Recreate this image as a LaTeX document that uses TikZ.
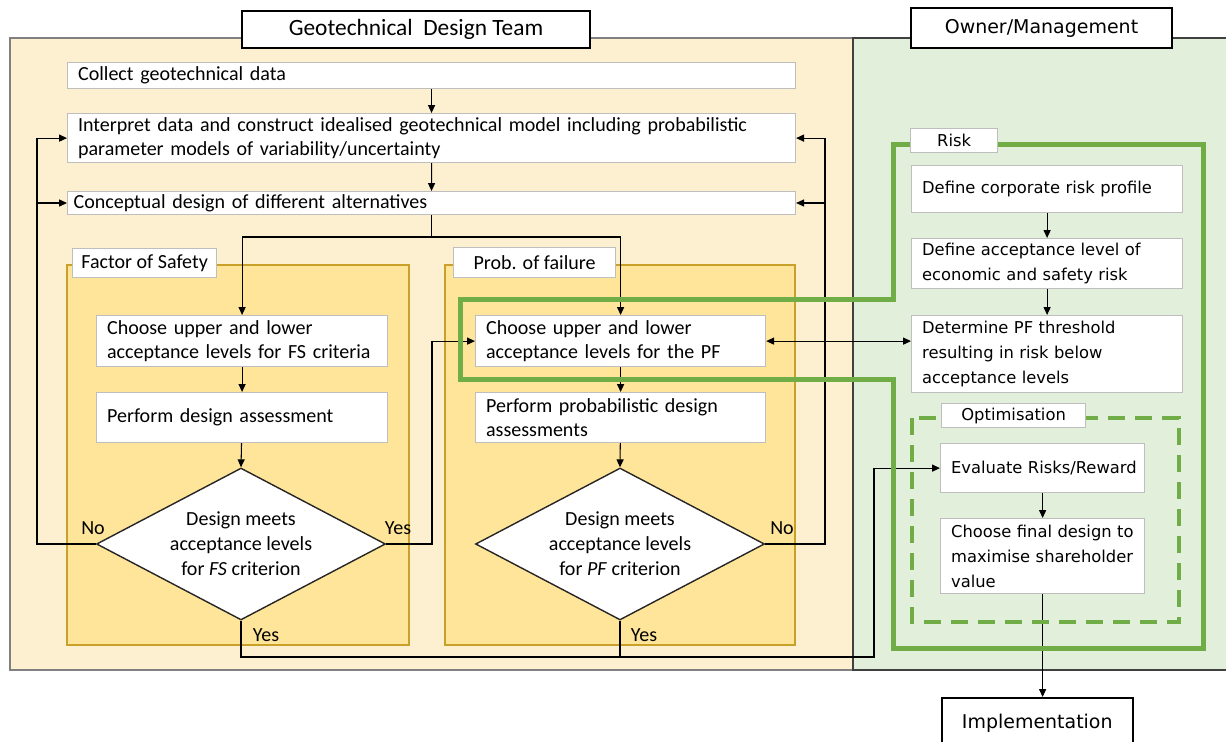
\documentclass[tikz,border=0pt]{standalone}
\usepackage{fontspec}
\setmainfont{Carlito}
\newfontfamily\widefont{DejaVu Sans}
\usetikzlibrary{shapes.geometric,arrows.meta}
\definecolor{beige}{RGB}{253,240,208}
\definecolor{gold}{RGB}{255,229,153}
\definecolor{goldline}{RGB}{201,160,40}
\definecolor{greenbg}{RGB}{226,239,218}
\definecolor{gline}{RGB}{112,173,71}
\definecolor{boxgray}{RGB}{190,190,190}
\begin{document}
\begin{tikzpicture}[x=0.02cm,y=-0.02cm,
  >={Triangle[length=4.5pt,width=4pt]},
  fl/.style={font=\fontsize{11.4}{13.6}\selectfont},
  fr/.style={font=\widefont\fontsize{9.3}{14.2}\selectfont},
  wbox/.style={draw=boxgray, fill=white, line width=0.7pt, anchor=north west, inner xsep=0.21cm, inner ysep=0pt, align=left},
  lbox/.style={draw=boxgray, fill=white, line width=0.7pt, anchor=north west, inner sep=0pt, align=center},
  titlebox/.style={draw=black, fill=white, line width=0.9pt, inner sep=0pt, align=center},
  diam/.style={diamond, draw=black!85, fill=white, line width=0.8pt, shape aspect=1.9, inner sep=0pt, minimum width=5.78cm, minimum height=3.04cm, align=center, font=\fontsize{11.4}{14.2}\selectfont},
  conn/.style={draw=black, line width=0.6pt},
  lab/.style={inner sep=0pt, font=\fontsize{11.4}{13.6}\selectfont},
  gpath/.style={draw=gline, line width=0.1cm, miter limit=10},
  gdash/.style={draw=gline, line width=0.075cm, dash pattern=on 0.34cm off 0.2cm}
]
\useasboundingbox (0,0) rectangle (1226,742);
% panels
\filldraw[fill=beige, draw=black!50, line width=0.6pt] (10,38) rectangle (853,670);
\filldraw[fill=greenbg, draw=black!75, line width=0.6pt] (853,38) rectangle (1232,670);
\filldraw[fill=gold, draw=goldline, line width=0.7pt] (67,265) rectangle (409,645);
\filldraw[fill=gold, draw=goldline, line width=0.7pt] (445,265) rectangle (795,645);

% titles
\node[titlebox, minimum width=6.96cm, minimum height=0.74cm, font=\fontsize{13.3}{15}\selectfont] (tgeo) at (416,29.5) {Geotechnical\ \ Design Team};
\node[titlebox, minimum width=5.22cm, minimum height=0.8cm, font=\widefont\fontsize{10.8}{12}\selectfont] (town) at (1041.5,28) {Owner/Management};

% left boxes
\node[wbox, fl, text width=14.14cm, minimum height=0.52cm] (collect) at (67,62) {Collect geotechnical data};
\node[wbox, fl, text width=14.14cm, minimum height=0.98cm] (interp) at (67,113) {Interpret data and construct idealised geotechnical model including probabilistic\\parameter models of variability/uncertainty};
\node[wbox, fl, inner xsep=0.12cm, text width=14.32cm, minimum height=0.46cm] (concept) at (67,191) {Conceptual design of different alternatives};

\node[lbox, fl, minimum width=2.88cm, minimum height=0.58cm] (lfs) at (72,248) {Factor of Safety};
\node[lbox, fl, minimum width=3.24cm, minimum height=0.6cm] (lpf) at (453,247) {Prob. of failure};

\node[wbox, fl, text width=5.40cm, minimum height=1.02cm] (chfs) at (96,315) {Choose upper and lower\\acceptance levels for FS criteria};
\node[wbox, fl, text width=5.40cm, minimum height=1.0cm] (perfs) at (96,392) {Perform design assessment};
\node[wbox, fl, text width=5.38cm, minimum height=1.02cm] (chpf) at (475,315) {Choose upper and lower\\acceptance levels for the PF};
\node[wbox, fl, text width=5.38cm, minimum height=1.0cm] (perpf) at (475,392) {Perform probabilistic design\\assessments};

\node[diam] (dfs) at (241,544) {Design meets\\acceptance levels\\for \textit{FS} criterion};
\node[diam] (dpf) at (620,544) {Design meets\\acceptance levels\\for \textit{PF} criterion};

% right boxes
\node[wbox, fr, text width=5.00cm, minimum height=0.94cm] (corp) at (911,165) {Define corporate risk profile};
\node[wbox, fr, text width=5.00cm, minimum height=1.0cm] (acc) at (911,238) {Define acceptance level of\\economic and safety risk};
\node[wbox, fr, text width=5.00cm, minimum height=1.54cm] (det) at (911,315) {Determine PF threshold\\resulting in risk below\\acceptance levels};
\node[wbox, fr, inner xsep=0.14cm, text width=3.80cm, minimum height=0.98cm] (eval) at (940,443) {\hspace{0.07cm}Evaluate Risks/Reward};
\node[wbox, fr, text width=3.66cm, minimum height=1.5cm] (final) at (940,518) {Choose final design to\\maximise shareholder\\value};
\node[titlebox, anchor=north west, minimum width=3.82cm, minimum height=1.0cm, font=\widefont\fontsize{10.8}{12}\selectfont] (impl) at (941,697) {Implementation};

% connectors
\draw[conn,->] (collect) -- (interp);
\draw[conn,->] (interp) -- (concept);
\draw[conn] (concept.south) -- (concept.south |- 0,237) coordinate (split);
\draw[conn,->] (split) -| (chfs.north);
\draw[conn,->] (split) -| (chpf.north);
\draw[conn,->] (chfs) -- (perfs);
\draw[conn,->] (perfs) -- (dfs.north);
\draw[conn,->] (chpf) -- (perpf);
\draw[conn,->] (perpf) -- (dpf.north);
\coordinate (lj) at (37,203);
\coordinate (rj) at (825,203);
\draw[conn,->] (dfs.west) -| (lj) |- (interp.west);
\draw[conn,->] (lj) -- (lj -| concept.west);
\draw[conn,->] (dpf.east) -| (rj) |- (interp.east);
\draw[conn,->] (rj) -- (rj -| concept.east);
\coordinate (fy) at (432,544);
\draw[conn,->] (dfs.east) -- (fy) |- (chpf.west);
\coordinate (yb) at (874,657);
\draw[conn,->] (dfs.south) |- (yb) |- (eval.west);
\draw[conn] (dpf.south) -- (dpf.south |- yb);
\draw[conn,<->] (chpf.east) -- (chpf.east -| det.west);
\draw[conn,->] (corp) -- (acc);
\draw[conn,->] (acc) -- (det);
\draw[conn,->] (eval.south -| final.north) -- (final.north);
\draw[conn,->] (final.south) -- (final.south |- impl.north);

% yes/no labels
\node[lab] (no1) at (93,528) {No};
\node[lab] (yes1) at (398,528) {Yes};
\node[lab] (no2) at (782,528) {No};
\node[lab] (yes2) at (266,635) {Yes};
\node[lab] (yes3) at (644,635) {Yes};

% green risk frame
\draw[gpath] (893,145) -- (1203,145) -- (1203,648) -- (893,648) -- (893,380) -- (460,380) -- (460,300) -- (893,300) -- cycle;
\draw[gdash] (912,418) rectangle (1179,622);
\node[lbox, fr, minimum width=1.74cm, minimum height=0.48cm] (lrisk) at (910,128) {Risk};
\node[lbox, fr, minimum width=2.88cm, minimum height=0.48cm] (lopt) at (941,403) {Optimisation};
\end{tikzpicture}
\end{document}
